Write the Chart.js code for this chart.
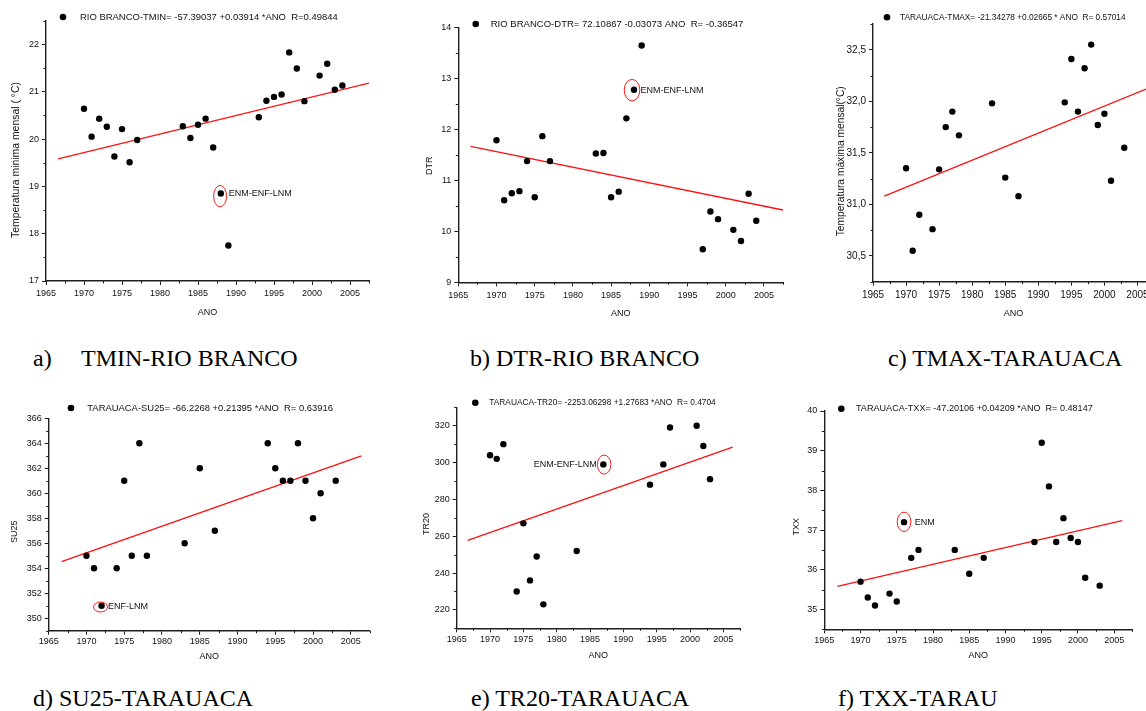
<!DOCTYPE html>
<html>
<head>
<meta charset="utf-8">
<script src="https://cdn.jsdelivr.net/npm/chart.js@4.4.1/dist/chart.umd.min.js"></script>
<style>
  html, body { margin:0; padding:0; background:#fff; }
  body { width:1146px; height:711px; overflow:hidden; position:relative; }
  .panel { position:absolute; overflow:hidden; }
  .panel canvas { position:absolute; left:0; top:0; }
  .cap { position:absolute; font-family:'Liberation Serif','Times New Roman',serif; font-size:24px; line-height:1; color:#000; white-space:pre; }
</style>
</head>
<body>
<div class="cap" style="left:33px;top:346px;">a)</div>
<div class="cap" style="left:81px;top:346px;">TMIN-RIO BRANCO</div>
<div class="cap" style="left:470px;top:346px;">b) DTR-RIO BRANCO</div>
<div class="cap" style="left:888px;top:346px;">c) TMAX-TARAUACA</div>
<div class="cap" style="left:33px;top:686px;">d) SU25-TARAUACA</div>
<div class="cap" style="left:471px;top:686px;">e) TR20-TARAUACA</div>
<div class="cap" style="left:838px;top:686px;">f) TXX-TARAU</div>

<script>
// ---------------- DATA ----------------
// shared x axis
const xTickYears  = [1965, 1970, 1975, 1980, 1985, 1990, 1995, 2000, 2005];
const xTickLabels = ['1965','1970','1975','1980','1985','1990','1995','2000','2005'];

// a) TMIN - RIO BRANCO
const yearsTminRB = [1970,1971,1972,1973,1974,1975,1976,1977,1983,1984,1985,1986,1987,1988,1989,1993,1994,1995,1996,1997,1998,1999,2001,2002,2003,2004];
const tminRB      = [20.64,20.05,20.43,20.26,19.63,20.21,19.51,19.98,20.27,20.02,20.30,20.43,19.82,18.85,17.75,20.46,20.81,20.89,20.94,21.83,21.49,20.80,21.34,21.59,21.04,21.13];
const trendTminRBx = [1966.6, 2007.5];
const trendTminRBy = [19.58, 21.18];
const yTicksTminRB  = [17, 18, 19, 20, 21, 22];
const yLabelsTminRB = ['17','18','19','20','21','22'];
const legendTminRB = 'RIO BRANCO-TMIN= -57.39037 +0.03914 *ANO  R=0.49844';
const noteTminRB = { x: 1988, y: 18.85, text: 'ENM-ENF-LNM' };

// b) DTR - RIO BRANCO
const yearsDtrRB = [1970,1971,1972,1973,1974,1975,1976,1977,1983,1984,1985,1986,1987,1988,1989,1997,1998,1999,2001,2002,2003,2004];
const dtrRB      = [11.79,10.61,10.75,10.79,11.38,10.67,11.87,11.38,11.53,11.54,10.67,10.78,12.22,12.78,13.65,9.65,10.39,10.24,10.03,9.81,10.74,10.21];
const trendDtrRBx = [1966.6, 2007.5];
const trendDtrRBy = [11.67, 10.42];
const yTicksDtrRB  = [9, 10, 11, 12, 13, 14];
const yLabelsDtrRB = ['9','10','11','12','13','14'];
const legendDtrRB = 'RIO BRANCO-DTR= 72.10867 -0.03073 ANO  R= -0.36547';
const noteDtrRB = { x: 1988, y: 12.78, text: 'ENM-ENF-LNM' };

// c) TMAX - TARAUACA
const yearsTmaxTA = [1970,1971,1972,1974,1975,1976,1977,1978,1983,1985,1987,1994,1995,1996,1997,1998,1999,2000,2001,2003];
const tmaxTA      = [31.35,30.55,30.90,30.76,31.34,31.75,31.90,31.67,31.98,31.26,31.08,31.99,32.41,31.90,32.32,32.55,31.77,31.88,31.23,31.55];
const trendTmaxTAx = [1966.7, 2007.5];
const trendTmaxTAy = [31.08, 32.15];
const yTicksTmaxTA  = [30.5, 31.0, 31.5, 32.0, 32.5];
const yLabelsTmaxTA = ['30,5','31,0','31,5','32,0','32,5'];
const legendTmaxTA = 'TARAUACA-TMAX= -21.34278 +0.02665 * ANO  R= 0.57014';

// d) SU25 - TARAUACA
const yearsSu25TA = [1970,1971,1972,1974,1975,1976,1977,1978,1983,1985,1987,1994,1995,1996,1997,1998,1999,2000,2001,2003];
const su25TA      = [355,354,351,354,361,355,364,355,356,362,357,364,362,361,361,364,361,358,360,361];
const trendSu25TAx = [1966.7, 2006.4];
const trendSu25TAy = [354.53, 363.0];
const yTicksSu25TA  = [350, 352, 354, 356, 358, 360, 362, 364, 366];
const yLabelsSu25TA = ['350','352','354','356','358','360','362','364','366'];
const legendSu25TA = 'TARAUACA-SU25= -66.2268 +0.21395 *ANO  R= 0.63916';
const noteSu25TA = { x: 1972, y: 351, text: 'ENF-LNM' };

// e) TR20 - TARAUACA
const yearsTr20TA = [1970,1971,1972,1974,1975,1976,1977,1978,1983,1987,1994,1996,1997,2001,2002,2003];
const tr20TA      = [304,302,310,230,267,236,249,223,252,299,288,299,319,320,309,291];
const trendTr20TAx = [1966.65, 2006.4];
const trendTr20TAy = [257.7, 308.4];
const yTicksTr20TA  = [220, 240, 260, 280, 300, 320];
const yLabelsTr20TA = ['220','240','260','280','300','320'];
const legendTr20TA = 'TARAUACA-TR20= -2253.06298 +1.27683 *ANO  R= 0.4704';
const noteTr20TA = { x: 1987, y: 299, text: 'ENM-ENF-LNM' };

// f) TXX - TARAUACA
const yearsTxxTA = [1970,1971,1972,1974,1975,1976,1977,1978,1983,1985,1987,1994,1995,1996,1997,1998,1999,2000,2001,2003];
const txxTA      = [35.7,35.3,35.1,35.4,35.2,37.2,36.3,36.5,36.5,35.9,36.3,36.7,39.2,38.1,36.7,37.3,36.8,36.7,35.8,35.6];
const trendTxxTAx = [1966.8, 2006.1];
const trendTxxTAy = [35.58, 37.24];
const yTicksTxxTA  = [35, 36, 37, 38, 39, 40];
const yLabelsTxxTA = ['35','36','37','38','39','40'];
const legendTxxTA = 'TARAUACA-TXX= -47.20106 +0.04209 *ANO  R= 0.48147';
const noteTxxTA = { x: 1976, y: 37.2, text: 'ENM' };

// ---------------- LAYOUT / STYLE ----------------
const AXIS = '#1e1e1e';
const SANS = "'Liberation Sans', Arial, sans-serif";
const NARROW = "'Liberation Sans Narrow', 'Liberation Sans', Arial, sans-serif";

const panels = [
  { box:[0,0,390,340], area:[46,20.7,369,281], xr:[1965,2007.5], yr:[17,22.5],
    years:yearsTminRB, vals:tminRB, tx:trendTminRBx, ty:trendTminRBy,
    yTicks:yTicksTminRB, yLabels:yLabelsTminRB, legend:legendTminRB,
    legendDot:63, legendText:80, legendY:17, legendW:258,
    yTitle:'Temperatura minima mensal ( °C)', yTitleX:15.7, yTitleY:160, yTitleW:156,
    xTitleY:312.3, xPad:3.6, family:SANS,
    note:noteTminRB, noteStyle:{dx:-0.7, dy:2.7, rx:6.5, ry:10.7, tdx:8, side:'right'} },
  { box:[390,0,400,340], area:[458.3,27.7,783,282.3], xr:[1965,2007.5], yr:[9,14],
    years:yearsDtrRB, vals:dtrRB, tx:trendDtrRBx, ty:trendDtrRBy,
    yTicks:yTicksDtrRB, yLabels:yLabelsDtrRB, legend:legendDtrRB,
    legendDot:475.7, legendText:490.7, legendY:24, legendW:253,
    yTitle:'DTR', yTitleX:429.3, yTitleY:165.7, yTitleW:0,
    xTitleY:313.3, xPad:3.6, family:SANS,
    note:noteDtrRB, noteStyle:{dx:-2, dy:0.3, rx:7.8, ry:10.7, tdx:6.4, side:'right'} },
  { box:[780,0,380,340], area:[873,24,1154,281.7], xr:[1965,2007.5], yr:[30.25,32.75],
    years:yearsTmaxTA, vals:tmaxTA, tx:trendTmaxTAx, ty:trendTmaxTAy,
    yTicks:yTicksTmaxTA, yLabels:yLabelsTmaxTA, legend:legendTmaxTA,
    legendDot:887, legendText:900, legendY:17.3, legendW:226,
    yTitle:'Temperatura máxima mensal(°C)', yTitleX:841, yTitleY:161.3, yTitleW:150,
    xTitleY:313.3, xPad:3.6, family:NARROW,
    note:null },
  { box:[0,380,390,331], area:[48.7,418.3,369.7,630.7], xr:[1965,2007.5], yr:[349,366],
    years:yearsSu25TA, vals:su25TA, tx:trendSu25TAx, ty:trendSu25TAy,
    yTicks:yTicksSu25TA, yLabels:yLabelsSu25TA, legend:legendSu25TA,
    legendDot:71, legendText:87.3, legendY:408, legendW:246,
    yTitle:'SU25', yTitleX:15, yTitleY:531.7, yTitleW:0,
    xTitleY:656.7, xPad:1.6, family:SANS,
    note:noteSu25TA, noteStyle:{dx:-1, dy:1.3, rx:7, ry:5, tdx:6.4, side:'right'} },
  { box:[390,380,390,331], area:[456.7,407.3,740,628.3], xr:[1965,2007.5], yr:[210,330],
    years:yearsTr20TA, vals:tr20TA, tx:trendTr20TAx, ty:trendTr20TAy,
    yTicks:yTicksTr20TA, yLabels:yLabelsTr20TA, legend:legendTr20TA,
    legendDot:475.3, legendText:489.3, legendY:402.7, legendW:226.7,
    yTitle:'TR20', yTitleX:426.7, yTitleY:524, yTitleW:0,
    xTitleY:656, xPad:1.6, family:SANS,
    note:noteTr20TA, noteStyle:{dx:0.8, dy:0.2, rx:6.8, ry:9.5, tdx:-6.5, side:'left'} },
  { box:[780,380,366,331], area:[824.3,411,1132.3,629.3], xr:[1965,2007.5], yr:[34.5,40],
    years:yearsTxxTA, vals:txxTA, tx:trendTxxTAx, ty:trendTxxTAy,
    yTicks:yTicksTxxTA, yLabels:yLabelsTxxTA, legend:legendTxxTA,
    legendDot:841.3, legendText:856, legendY:408.7, legendW:236.7,
    yTitle:'TXX', yTitleX:796.7, yTitleY:526.7, yTitleW:0,
    xTitleY:656, xPad:1.6, family:SANS,
    note:noteTxxTA, noteStyle:{dx:0, dy:-0.3, rx:6.8, ry:9.7, tdx:10.7, side:'right'} }
];

function minorValues(major, min, max) {
  const out = [];
  for (let i = 0; i < major.length - 1; i++) out.push((major[i] + major[i+1]) / 2);
  const step = major[1] - major[0];
  const lo = major[0] - step / 2, hi = major[major.length-1] + step / 2;
  if (lo >= min - 1e-9) out.push(lo);
  if (hi <= max + 1e-9) out.push(hi);
  return out;
}

function fitFont(ctx, text, width, family, base, lo, hi) {
  ctx.font = base + 'px ' + family;
  if (!width) return;
  const m = ctx.measureText(text).width;
  let size = base * width / m;
  size = Math.max(lo, Math.min(hi, size));
  ctx.font = size.toFixed(2) + 'px ' + family;
}

function makeDecor(p) {
  return {
    id: 'decor',
    afterDraw(chart) {
      const ctx = chart.ctx;
      const xs = chart.scales.x, ys = chart.scales.y;
      const ox = p.box[0], oy = p.box[1];
      ctx.save();
      // minor ticks
      ctx.strokeStyle = AXIS; ctx.lineWidth = 1;
      ctx.beginPath();
      for (const v of minorValues(xTickYears, xs.min, xs.max)) {
        const px = Math.round(xs.getPixelForValue(v)) + 0.5;
        ctx.moveTo(px, ys.bottom); ctx.lineTo(px, ys.bottom + 2.5);
      }
      for (const v of minorValues(p.yTicks, ys.min, ys.max)) {
        const py = Math.round(ys.getPixelForValue(v)) + 0.5;
        ctx.moveTo(xs.left, py); ctx.lineTo(xs.left - 2.5, py);
      }
      ctx.stroke();
      // legend
      ctx.fillStyle = '#000';
      ctx.beginPath(); ctx.arc(p.legendDot - ox, p.legendY - oy, 3.3, 0, Math.PI * 2); ctx.fill();
      fitFont(ctx, p.legend, p.legendW, p.family, 9, 7.5, 10.5);
      ctx.textAlign = 'left'; ctx.textBaseline = 'middle';
      ctx.fillStyle = '#111';
      ctx.fillText(p.legend, p.legendText - ox, p.legendY - oy);
      // y title
      fitFont(ctx, p.yTitle, p.yTitleW, p.family, 9, 8, 10.5);
      ctx.save();
      ctx.translate(p.yTitleX - ox, p.yTitleY - oy);
      ctx.rotate(-Math.PI / 2);
      ctx.textAlign = 'center'; ctx.textBaseline = 'middle';
      ctx.fillText(p.yTitle, 0, 0);
      ctx.restore();
      // annotation
      if (p.note) {
        const s = p.noteStyle;
        const px = xs.getPixelForValue(p.note.x), py = ys.getPixelForValue(p.note.y);
        ctx.strokeStyle = '#ff1a1a'; ctx.lineWidth = 1;
        ctx.beginPath();
        ctx.ellipse(px + s.dx, py + s.dy, s.rx, s.ry, 0, 0, Math.PI * 2);
        ctx.stroke();
        ctx.font = '9px ' + p.family;
        ctx.fillStyle = '#111';
        ctx.textBaseline = 'middle';
        ctx.textAlign = s.side === 'left' ? 'right' : 'left';
        ctx.fillText(p.note.text, px + s.tdx, py + 0.5);
      }
      ctx.restore();
    }
  };
}

panels.forEach((p, idx) => {
  const [bx, by, bw, bh] = p.box;
  const div = document.createElement('div');
  div.className = 'panel';
  div.style.left = bx + 'px'; div.style.top = by + 'px';
  div.style.width = Math.min(bw, 1146 - bx) + 'px';
  div.style.height = bh + 'px';
  const cv = document.createElement('canvas');
  cv.width = bw; cv.height = bh;
  cv.style.width = bw + 'px'; cv.style.height = bh + 'px';
  div.appendChild(cv);
  document.body.appendChild(div);

  const aL = p.area[0] - bx, aT = p.area[1] - by, aR = p.area[2] - bx, aB = p.area[3] - by;
  const yW = aL, xH = bh - aB;
  const tickFont = { family: p.family, size: p.family === NARROW ? 10 : 9 };
  const titleLH = 9 * 1.2;

  new Chart(cv, {
    type: 'scatter',
    data: {
      datasets: [
        { label: 'pts', data: p.years.map((x, i) => ({ x, y: p.vals[i] })),
          pointRadius: 3.2, pointHoverRadius: 3.2, backgroundColor: '#000', borderWidth: 0, showLine: false },
        { label: 'fit', data: p.tx.map((x, i) => ({ x, y: p.ty[i] })),
          showLine: true, borderColor: '#ff1010', borderWidth: 1.3, pointRadius: 0, fill: false, tension: 0 }
      ]
    },
    options: {
      responsive: false, animation: false, devicePixelRatio: 1, events: [],
      layout: { padding: { left: 0, top: aT, right: bw - aR, bottom: 0 } },
      plugins: { legend: { display: false }, tooltip: { enabled: false } },
      scales: {
        x: {
          type: 'linear', position: 'bottom', min: p.xr[0], max: p.xr[1],
          afterBuildTicks: s => { s.ticks = xTickYears.map(v => ({ value: v })); },
          afterFit: s => { s.height = xH; },
          ticks: { callback: (v, i) => xTickLabels[i], font: tickFont, color: '#111',
                   padding: p.xPad, maxRotation: 0, autoSkip: false, includeBounds: false },
          grid: { display: true, drawOnChartArea: false, drawTicks: true, tickLength: 4, tickColor: AXIS, tickWidth: 1 },
          border: { display: true, color: AXIS, width: 1.4 },
          title: { display: true, text: 'ANO', color: '#111', font: { family: p.family, size: 9 },
                   padding: { top: 0, bottom: bh - (p.xTitleY - by) - titleLH / 2 } }
        },
        y: {
          type: 'linear', position: 'left', min: p.yr[0], max: p.yr[1],
          afterBuildTicks: s => { s.ticks = p.yTicks.map(v => ({ value: v })); },
          afterFit: s => { s.width = yW; },
          ticks: { callback: (v, i) => p.yLabels[i], font: tickFont, color: '#111',
                   padding: 3, autoSkip: false, includeBounds: false },
          grid: { display: true, drawOnChartArea: false, drawTicks: true, tickLength: 4, tickColor: AXIS, tickWidth: 1 },
          border: { display: true, color: AXIS, width: 1.4 },
          title: { display: false }
        }
      }
    },
    plugins: [makeDecor(p)]
  });
});
</script>
</body>
</html>
